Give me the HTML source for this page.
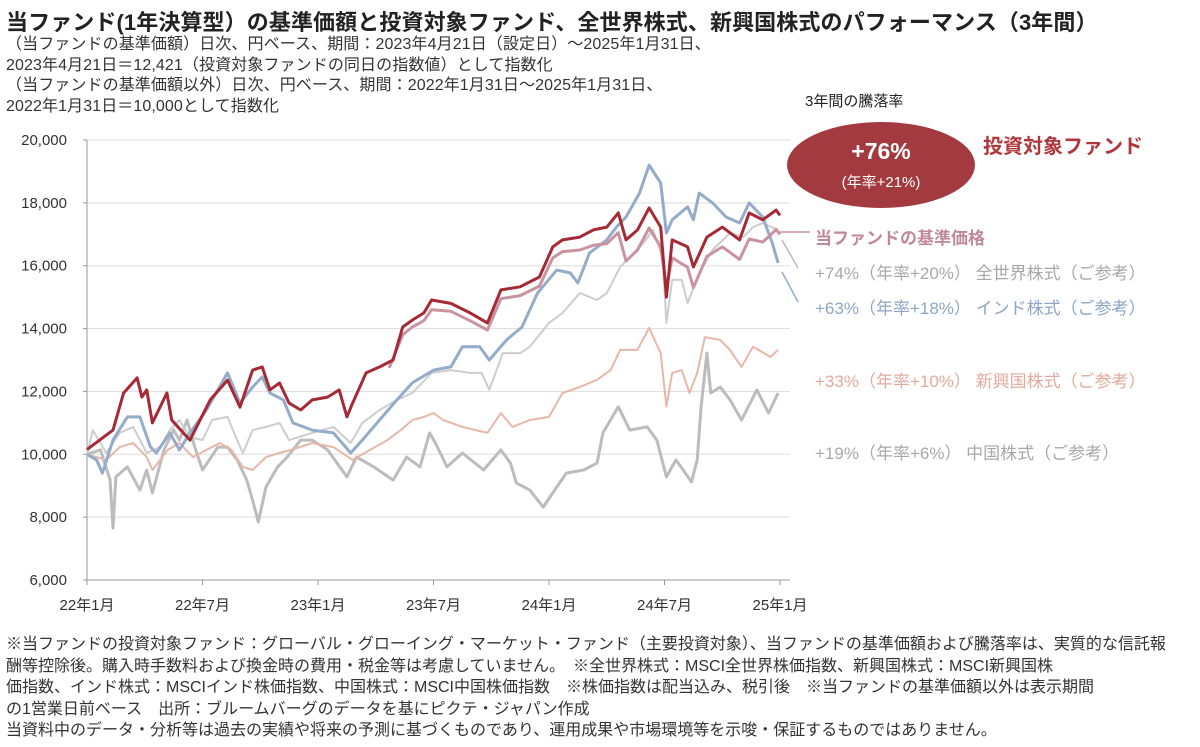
<!DOCTYPE html>
<html><head><meta charset="utf-8">
<style>
body{margin:0;width:1200px;height:747px;background:#fff;font-family:"Liberation Sans","Noto Sans CJK JP",sans-serif;overflow:hidden;position:relative;color:#333}
.t{position:absolute;white-space:nowrap}
</style></head><body>
<div class="t" style="left:6px;top:5px;font-size:22px;font-weight:bold;color:#222;letter-spacing:0.1px">当ファンド(1年決算型）の基準価額と投資対象ファンド、全世界株式、新興国株式のパフォーマンス（3年間）</div>
<div class="t" style="left:6px;top:35px;font-size:16px;line-height:20.7px;color:#333;letter-spacing:0.1px">（当ファンドの基準価額）日次、円ベース、期間：2023年4月21日（設定日）～2025年1月31日、<br>2023年4月21日＝12,421（投資対象ファンドの同日の指数値）として指数化<br>（当ファンドの基準価額以外）日次、円ベース、期間：2022年1月31日～2025年1月31日、<br>2022年1月31日＝10,000として指数化</div>
<svg id="chart" width="1200" height="747" style="position:absolute;left:0;top:0"></svg>
<div class="t" style="left:805px;top:90px;font-size:15px;color:#222">3年間の騰落率</div>
<div style="position:absolute;left:787px;top:122px;width:188px;height:86px;border-radius:50%;background:#a33a40;color:#fff;text-align:center">
<div style="font-size:23px;font-weight:bold;margin-top:16px">+76%</div>
<div style="font-size:15px;margin-top:6px">(年率+21%)</div></div>
<div class="t" style="left:983px;top:130px;font-size:20px;font-weight:bold;color:#b0383c">投資対象ファンド</div>
<div class="t" style="left:815px;top:224px;font-size:17px;font-weight:bold;color:#c0899a">当ファンドの基準価格</div>
<div class="t" style="left:815px;top:259px;font-size:17px;color:#a8a8a8">+74%（年率+20%） 全世界株式（ご参考）</div>
<div class="t" style="left:815px;top:294px;font-size:17px;color:#8da6c4">+63%（年率+18%） インド株式（ご参考）</div>
<div class="t" style="left:815px;top:367px;font-size:17px;color:#e2aa9c">+33%（年率+10%） 新興国株式（ご参考）</div>
<div class="t" style="left:815px;top:439px;font-size:17px;color:#a8a8a8">+19%（年率+6%） 中国株式（ご参考）</div>
<div class="t" style="left:6px;top:634px;font-size:16px;line-height:21.5px;color:#333;letter-spacing:0px">※当ファンドの投資対象ファンド：グローバル・グローイング・マーケット・ファンド（主要投資対象）、当ファンドの基準価額および騰落率は、実質的な信託報<br>酬等控除後。購入時手数料および換金時の費用・税金等は考慮していません。　※全世界株式：MSCI全世界株価指数、新興国株式：MSCI新興国株<br>価指数、インド株式：MSCIインド株価指数、中国株式：MSCI中国株価指数　※株価指数は配当込み、税引後　※当ファンドの基準価額以外は表示期間<br>の1営業日前ベース　出所：ブルームバーグのデータを基にピクテ・ジャパン作成<br>当資料中のデータ・分析等は過去の実績や将来の予測に基づくものであり、運用成果や市場環境等を示唆・保証するものではありません。</div>
<script>
const yTicks=[6000,8000,10000,12000,14000,16000,18000,20000];
const xTickMonths=[0,6,12,18,24,30,36];
const xTickLabels=["22年1月","22年7月","23年1月","23年7月","24年1月","24年7月","25年1月"];
const fundT=[0,1.35,1.9,2.6,2.85,3.1,3.4,4.15,4.4,5,5.35,6.4,7.3,7.95,8.6,9.1,9.5,10,10.5,11.1,11.7,12.5,13.1,13.5,13.8,14.5,15.2,15.9,16.4,16.9,17.5,17.9,18.9,19.9,20.8,21.5,22.5,23.5,24.2,24.7,25.6,26.3,27,27.6,28,28.6,29.2,29.8,30.1,30.4,31.2,31.5,32.2,33,33.9,34.4,35.1,35.8,36];
const fundV=[10150,10770,11950,12430,11820,12050,11000,11950,11090,10680,10450,11730,12360,11500,12680,12780,12050,12270,11630,11410,11730,11820,12050,11190,11630,12590,12780,13000,14050,14270,14500,14910,14800,14500,14180,15230,15330,15640,16600,16820,16910,17140,17230,17680,16820,17140,17840,17230,15000,16820,16600,15960,16910,17230,16820,17680,17460,17770,17600];
const navT=[15.7,16.4,16.9,17.5,17.9,18.9,19.9,20.8,21.5,22.5,23.5,24.2,24.7,25.6,26.3,27,27.6,28,28.6,29.2,29.8,30.1,30.4,31.2,31.5,32.2,33,33.9,34.4,35.1,35.8,36];
const navV=[12750,13800,14050,14250,14600,14550,14250,13950,14950,15050,15350,16250,16450,16500,16650,16700,17050,16150,16500,17200,16600,15300,16250,15950,15300,16300,16600,16200,16850,16750,17150,17000];
const indiaT=[0,0.5,0.8,1.35,2.1,2.75,3.3,3.6,4.3,4.8,5.35,6.2,7.3,7.95,8.6,9.1,9.5,10.2,10.7,11.7,12.8,13.7,14.3,15.2,16.1,16.9,18,18.9,19.5,20.4,20.9,21.8,22.6,23.4,24.4,25.1,25.5,26.1,27,27.5,28,28.7,29.2,29.8,30.1,30.4,31.2,31.5,31.8,32.5,33.2,33.9,34.4,35.1,35.6,35.9];
const indiaV=[10000,9820,9400,10450,11190,11190,10230,10040,10680,10140,10680,11410,12590,11630,12140,12460,11950,11730,11000,10770,10680,10040,10450,11090,11730,12270,12680,12780,13420,13420,13000,13640,14050,15130,15860,15770,15450,16400,16820,17230,17550,18310,19200,18630,17040,17460,17870,17460,18310,18000,17550,17360,18000,17550,16720,16090];
const worldT=[0,0.3,1,1.7,2.4,3.1,3.8,4.3,4.8,5.35,6,6.5,7.3,7.8,8.1,8.6,9.3,10,10.5,11.7,12.8,13.7,14.3,15.2,16.1,16.9,17.9,18.9,19.9,20.5,20.9,21.6,22.5,23,24,24.7,25.6,26.5,27,27.7,28.2,28.9,29.4,29.9,30.1,30.4,30.9,31.2,31.8,32.5,33.4,34.1,34.6,35.1,35.9];
const worldV=[10000,10770,10040,10680,10870,10040,10230,10770,11090,10550,10450,11090,11190,10450,10040,10770,10870,11000,10450,10680,10870,10360,11000,11410,11730,11950,12590,12680,12590,12590,12050,13220,13220,13420,14180,14500,15130,14910,15130,15960,16280,16720,17140,16280,14180,15550,15550,14810,15770,16500,17040,16910,17230,17360,17140];
const emT=[0,1,1.7,2.4,3.1,3.4,4.2,4.8,5.5,6.2,6.9,7.5,8.1,8.6,9.3,10,10.6,11.7,12.8,13.8,14.7,15.6,16.3,16.9,17.5,18,18.5,19.5,20.8,21.5,22.1,23,24,24.7,25.6,26.5,27.2,27.7,28.6,29.2,29.8,30.1,30.4,30.9,31.3,31.7,32.1,32.9,33.4,34,34.6,35.5,35.9];
const emV=[10000,9820,10230,10360,9910,9500,10140,10360,9910,10140,10360,10140,9600,9500,9910,10040,10140,10360,10230,9820,10140,10450,10770,11090,11190,11310,11090,10870,10680,11310,10870,11090,11190,11950,12140,12370,12680,13320,13320,14020,13220,11510,12590,12680,11950,12590,13730,13640,13320,12780,13420,13100,13320];
const chinaT=[0,0.7,1.2,1.35,1.5,2.1,2.75,3.1,3.4,4,4.5,4.8,5.2,5.6,6,6.8,7.3,7.8,8.3,8.6,8.9,9.3,9.9,10.4,11.1,11.7,12.5,13.5,14,14.9,15.9,16.6,17.3,17.8,18.1,18.7,19.5,20.6,21.5,22,22.3,23,23.7,24.2,24.9,25.8,26.5,26.8,27.6,28.2,29.1,29.6,30.1,30.6,31.4,31.7,31.9,32.2,32.4,32.9,33.4,34,34.8,35.4,35.9];
const chinaV=[10000,10140,9180,7650,9280,9600,8860,9500,8770,10140,10770,10450,11090,10230,9500,10230,10230,9820,9180,8540,7850,8960,9600,9910,10450,10450,10140,9280,9910,9600,9180,9910,9600,10680,10360,9600,10040,9500,10140,9720,9090,8860,8320,8770,9400,9500,9720,10680,11510,10770,10870,10450,9280,9820,9120,9820,11510,13220,11950,12140,11730,11090,12050,11310,11950];

const svg=document.getElementById('chart');
const NS='http://www.w3.org/2000/svg';
const X0=87,X1=780,Y0=580,Y1=140;
const xs=m=>X0+(X1-X0)*m/36;
const ys=v=>Y0-(Y0-Y1)*(v-6000)/14000;
function mk(tag,attrs){const e=document.createElementNS(NS,tag);for(const k in attrs)e.setAttribute(k,attrs[k]);svg.appendChild(e);return e;}
yTicks.forEach(v=>{
  const g=mk('line',{x1:X0,x2:X1+10,y1:ys(v),y2:ys(v),stroke:v===6000?'#999':'#ddd','stroke-width':1});
  
  
  const tk=mk('line',{x1:X0-4,x2:X0,y1:ys(v),y2:ys(v),stroke:'#999'});
  
  
  const t=mk('text',{x:X0-20,y:ys(v)+5,'text-anchor':'end','font-size':15,fill:'#333','font-family':'Liberation Sans, sans-serif'});
  t.textContent=v.toLocaleString('en-US');
  
  
});
const ax=mk('line',{x1:X0,x2:X0,y1:Y1,y2:Y0,stroke:'#999'});


xTickMonths.forEach((m,i)=>{
  const tk=mk('line',{x1:xs(m),x2:xs(m),y1:Y0,y2:Y0+5,stroke:'#999'});
  
  
  const t=mk('text',{x:xs(m),y:Y0+30,'text-anchor':'middle','font-size':15,fill:'#333','font-family':'Liberation Sans, Noto Sans CJK JP, sans-serif'});
  t.textContent=xTickLabels[i];
  
  
});
function line(T,V,color,w,name){
  const d=T.map((t,i)=>(i?'L':'M')+xs(t).toFixed(1)+','+ys(V[i]).toFixed(1)).join('');
  const p=mk('path',{d:d,fill:'none',stroke:color,'stroke-width':w,'stroke-linejoin':'round'});
  
  
}
line(chinaT,chinaV,'#bcbcbc',3,'china-line');
line(emT,emV,'#e8b7a9',2,'em-line');
line(worldT,worldV,'#cdcdcd',2,'world-line');
line(indiaT,indiaV,'#94acc9',3,'india-line');
line(navT,navV,'#c9939f',3,'fund-nav-line');
line(fundT,fundV,'#a52a35',3,'target-fund-line');
[[780,232,810,232,'#c9939f'],[782,240,798,268,'#bbb'],[782,272,798,302,'#94acc9']].forEach(a=>{
  const l=mk('line',{x1:a[0],y1:a[1],x2:a[2],y2:a[3],stroke:a[4],'stroke-width':1.5});
  
  
});
</script>
</body></html>
